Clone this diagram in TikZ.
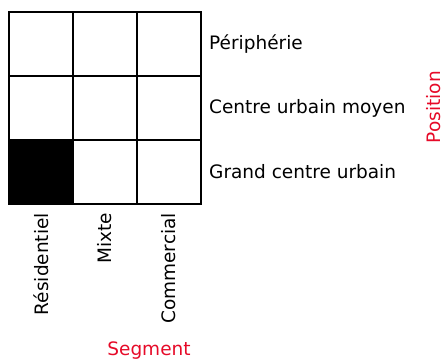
\documentclass[tikz,border=0pt]{standalone}
\usepackage{fontspec}
\setmainfont{DejaVu Sans}
\definecolor{axisred}{RGB}{230,10,40}
\begin{document}
\begin{tikzpicture}[x=1pt,y=-1pt,
  cell/.style={draw=black,line width=1.2pt,minimum size=64pt,inner sep=0pt,outer sep=0pt},
  lab/.style={font=\fontsize{18.5}{20}\selectfont,inner sep=0pt},
  axislab/.style={font=\fontsize{18.5}{20}\selectfont,text=axisred,inner sep=0pt}]
\useasboundingbox (0,0) rectangle (445,360);
\foreach \r in {0,1,2}{
  \foreach \c in {0,1,2}{
    \node[cell] (c\r\c) at ({41+64*\c},{44+64*\r}) {};
  }
}
\node[cell,fill=black] at (c20) {};
\node[lab,anchor=west] (p1) at (209,44) {Périphérie};
\node[lab,anchor=west] (p2) at (209,108) {Centre urbain moyen};
\node[lab,anchor=west] (p3) at (209,172) {Grand centre urbain};
\node[axislab,rotate=90] (pos) at (434,107) {Position};
\node[lab,rotate=90,anchor=east] (s1) at (41,213) {Résidentiel};
\node[lab,rotate=90,anchor=east] (s2) at (105,213) {Mixte};
\node[lab,rotate=90,anchor=east] (s3) at (169,213) {Commercial};
\node[axislab] (seg) at (149,351) {Segment};
\end{tikzpicture}
\end{document}
